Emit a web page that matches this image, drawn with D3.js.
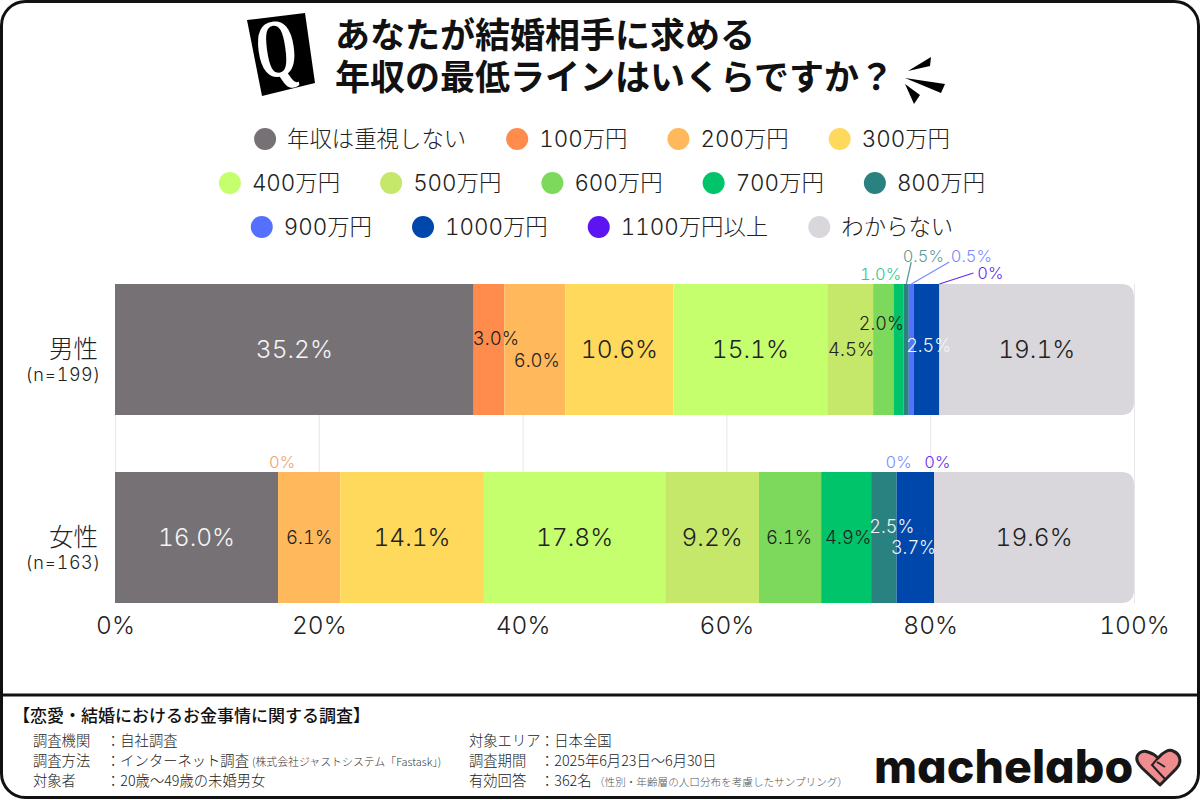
<!DOCTYPE html>
<html>
<head>
<meta charset="utf-8">
<title>あなたが結婚相手に求める年収の最低ライン</title>
<script src="https://cdn.jsdelivr.net/npm/d3@7"></script>
<style>
html, body { margin: 0; padding: 0; background: #fff; }
svg { display: block; font-family: Inter, "Noto Sans CJK JP", sans-serif; font-feature-settings: "tnum"; }
</style>
</head>
<body>
<svg id="stage" width="1200" height="800"></svg>
<script>
'use strict';

var groups = ['男性', '女性'];
var groupCounts = ['(n=199)', '(n=163)'];
var seriesNames = ['年収は重視しない', '100万円', '200万円', '300万円', '400万円', '500万円', '600万円', '700万円', '800万円', '900万円', '1000万円', '1100万円以上', 'わからない'];
var seriesColors = ['#757175', '#ff8c4d', '#ffb95c', '#ffd95c', '#c5ff6e', '#c5e86a', '#7dd95c', '#00c46a', '#2a8280', '#5470ff', '#0047ab', '#5c14f0', '#d9d7db'];
var maleValues = [35.2, 3.0, 6.0, 10.6, 15.1, 4.5, 2.0, 1.0, 0.5, 0.5, 2.5, 0, 19.1];
var femaleValues = [16.0, 0, 6.1, 14.1, 17.8, 9.2, 6.1, 4.9, 2.5, 0, 3.7, 0, 19.6];
var axisTicks = [0, 20, 40, 60, 80, 100];
var legendRows = [
    ['年収は重視しない', '100万円', '200万円', '300万円'],
    ['400万円', '500万円', '600万円', '700万円', '800万円'],
    ['900万円', '1000万円', '1100万円以上', 'わからない']
];
var titleLines = ['あなたが結婚相手に求める', '年収の最低ラインはいくらですか？'];
var surveyTitle = '【恋愛・結婚におけるお金事情に関する調査】';
var surveyLeft = [['調査機関', '：自社調査'], ['調査方法', '：インターネット調査'], ['対象者', '：20歳～49歳の未婚男女']];
var surveyRight = [['対象エリア', '：日本全国'], ['調査期間', '：2025年6月23日～6月30日'], ['有効回答', '：362名']];

var svg = d3.select('#stage');
var x = d3.scaleLinear().domain([0, 100]).range([115, 1134]);
var y = d3.scaleBand().domain(groups).range([284, 603]).paddingInner(57 / 188);
var color = d3.scaleOrdinal().domain(seriesNames).range(seriesColors);

var table = groups.map(function(g, i) {
    var row = { group: g };
    var values = i === 0 ? maleValues : femaleValues;
    seriesNames.forEach(function(s, j) { row[s] = values[j]; });
    return row;
});
var stacked = d3.stack().keys(seriesNames)(table);

// frame
svg.append('rect').attr('x', 1.5).attr('y', 1.5).attr('width', 1197).attr('height', 796)
    .attr('rx', 24).attr('fill', '#fff').attr('stroke', '#111').attr('stroke-width', 3);
svg.append('line').attr('x1', 2).attr('x2', 1198).attr('y1', 695).attr('y2', 695)
    .attr('stroke', '#111').attr('stroke-width', 3);

// title
svg.append('polygon').attr('points', '247,20 305,13 315,83 262,96').attr('fill', '#000');
svg.append('text').attr('transform', 'translate(280,76) rotate(-8) scale(0.72,1.15)')
    .attr('text-anchor', 'middle').attr('font-family', '"Liberation Serif"').attr('font-weight', 700)
    .attr('font-size', 72).attr('fill', '#fff').text('Q');
var title = svg.append('text')
    .attr('font-family', '"Noto Sans CJK JP"').attr('font-weight', 700).attr('font-size', 35).attr('fill', '#111');
title.selectAll('tspan').data(titleLines).enter().append('tspan')
    .attr('x', 335)
    .attr('y', function(d, i) { return 48 + i * 42; })
    .text(function(d) { return d; });
['908,71 931,57 930,66', '905,78 945,84 941,93', '905,84 920,95 914,104'].forEach(function(p) {
    svg.append('polygon').attr('points', p).attr('fill', '#000');
});

// legend
var legendY = d3.scalePoint().domain([0, 1, 2]).range([139, 227]);
legendRows.forEach(function(row, r) {
    var g = svg.append('g');
    var cursor = 0;
    row.forEach(function(name) {
        g.append('circle').attr('cx', cursor + 11).attr('cy', legendY(r)).attr('r', 11).attr('fill', color(name));
        var t = g.append('text').attr('x', cursor + 33).attr('y', legendY(r)).attr('dy', '0.36em')
            .attr('font-weight', 300)
            .attr('font-size', 22.4).attr('fill', '#222').text(name);
        cursor += 33 + t.node().getComputedTextLength() + 40;
    });
    g.attr('transform', 'translate(' + (602 - (cursor - 40) / 2) + ',0)');
});

// grid + axis
var axis = svg.append('g').attr('transform', 'translate(0,603)')
    .call(d3.axisBottom(x).tickValues(axisTicks).tickSize(-319).tickPadding(14)
        .tickFormat(function(d) { return d + '%'; }));
axis.select('.domain').remove();
axis.selectAll('.tick line').attr('stroke', '#e8e6e8');
axis.selectAll('text').attr('font-family', 'Inter, "Noto Sans CJK JP"').attr('font-size', 24.5)
    .attr('font-weight', 300).attr('fill', '#222');

// bars
function roundedEnd(x0, x1, y0, y1, r) {
    var p = d3.path();
    p.moveTo(x0, y0);
    p.lineTo(x1 - r, y0);
    p.quadraticCurveTo(x1, y0, x1, y0 + r);
    p.lineTo(x1, y1 - r);
    p.quadraticCurveTo(x1, y1, x1 - r, y1);
    p.lineTo(x0, y1);
    p.closePath();
    return p.toString();
}
stacked.forEach(function(layer) {
    var g = svg.append('g').attr('fill', color(layer.key));
    if (layer.key === 'わからない') {
        g.selectAll('path').data(layer).enter().append('path')
            .attr('d', function(d) {
                return roundedEnd(x(d[0]), x(d[1]), y(d.data.group), y(d.data.group) + y.bandwidth(), 13);
            });
    } else {
        g.selectAll('rect').data(layer.filter(function(d) { return d[1] > d[0]; })).enter().append('rect')
            .attr('x', function(d) { return x(d[0]); })
            .attr('y', function(d) { return y(d.data.group); })
            .attr('width', function(d) { return x(d[1]) - x(d[0]); })
            .attr('height', y.bandwidth());
    }
});

// group labels
groups.forEach(function(g, i) {
    var cy = y(g) + y.bandwidth() / 2;
    svg.append('text').attr('x', 98).attr('y', cy).attr('dy', '0.36em').attr('text-anchor', 'end')
        .attr('font-family', '"Noto Sans CJK JP"').attr('font-weight', 300).attr('font-size', 24.5).attr('fill', '#222').text(g);
    svg.append('text').attr('x', 101).attr('y', cy + 25).attr('dy', '0.36em').attr('text-anchor', 'end')
        .attr('font-weight', 300).attr('font-size', 18).attr('letter-spacing', 0.6).attr('fill', '#222').text(groupCounts[i]);
});

// value labels. size: big inside, small inside, or outside the bar with its own colour
var darkInk = '#222';
var whiteSeries = ['年収は重視しない', '800万円', '900万円', '1000万円'];
var labelPlacement = {
    '男性|100万円': { size: 18.5, dx: 7, dy: -11 },
    '男性|200万円': { size: 18.5, dx: 2, dy: 11 },
    '男性|500万円': { size: 18.5, dx: 1, dy: 0 },
    '男性|600万円': { size: 18, dx: -2, dy: -26 },
    '男性|700万円': { size: 16.5, dx: -18, top: 10, ink: '#2fc795' },
    '男性|800万円': { size: 16.5, dx: 17, top: 28, ink: '#5f9c98', lead: [5, 22] },
    '男性|900万円': { size: 16.5, dx: 60, top: 28, ink: '#7a8cff', lead: [38, 22] },
    '男性|1100万円以上': { size: 16.5, dx: 51, top: 11, ink: '#6a2bea', lead: [34, 11] },
    '男性|1000万円': { size: 18, dx: 2, dy: -4 },
    '女性|100万円': { size: 16.5, dx: 4, top: 10, ink: '#f0a070' },
    '女性|200万円': { size: 18.5, dx: 0, dy: 0 },
    '女性|600万円': { size: 18.5, dx: -1, dy: 0 },
    '女性|700万円': { size: 18.5, dx: 2, dy: 0 },
    '女性|800万円': { size: 18, dx: 8, dy: -11 },
    '女性|1000万円': { size: 18, dx: -2, dy: 10 },
    '女性|900万円': { size: 16.5, dx: 2, top: 10, ink: '#7a8cff' },
    '女性|1100万円以上': { size: 16.5, dx: 3, top: 10, ink: '#6a2bea' }
};
stacked.forEach(function(layer) {
    layer.forEach(function(d) {
        var g = d.data.group;
        var v = d.data[layer.key];
        var place = labelPlacement[g + '|' + layer.key];
        if (v === 0 && !place) return;
        var mid = x((d[0] + d[1]) / 2);
        var top = y(g);
        var cy = top + y.bandwidth() / 2;
        var size = place ? place.size : 24.5;
        var lx = mid + (place ? place.dx : 0);
        var ly = place && place.top !== undefined ? top - place.top : cy + (place ? place.dy : 0);
        var ink = place && place.ink ? place.ink : (whiteSeries.indexOf(layer.key) >= 0 ? '#f4f4f6' : darkInk);
        if (place && place.lead) {
            svg.append('line').attr('x1', mid).attr('y1', top)
                .attr('x2', mid + place.lead[0]).attr('y2', top - place.lead[1])
                .attr('stroke', ink).attr('stroke-width', 1.3);
        }
        svg.append('text').attr('x', lx).attr('y', ly).attr('dy', '0.36em').attr('text-anchor', 'middle')
            .attr('font-weight', 300).attr('font-size', size).attr('fill', ink)
            .text(v === 0 ? '0%' : v.toFixed(1) + '%');
    });
});

// survey notes
var noteFont = '"Noto Sans CJK JP"';
svg.append('text').attr('x', 13).attr('y', 722).attr('font-family', noteFont).attr('font-weight', 500)
    .attr('font-size', 17).attr('fill', '#111').text(surveyTitle);
function noteColumn(rows, keyX, valueX) {
    rows.forEach(function(r, i) {
        var ry = 746 + i * 20;
        svg.append('text').attr('x', keyX).attr('y', ry).attr('font-family', noteFont).attr('font-size', 14.3)
            .attr('font-weight', 300).attr('fill', '#222').text(r[0]);
        svg.append('text').attr('x', valueX).attr('y', ry).attr('font-family', noteFont).attr('font-size', 14.3)
            .attr('font-weight', 300).attr('fill', '#222').text(r[1]);
    });
}
noteColumn(surveyLeft, 33, 106);
noteColumn(surveyRight, 469, 540);
svg.append('text').attr('x', 252).attr('y', 766).attr('font-family', noteFont).attr('font-size', 10.9)
    .attr('font-weight', 300).attr('fill', '#333').text('(株式会社ジャストシステム「Fastask」)');
svg.append('text').attr('x', 594).attr('y', 786).attr('font-family', noteFont).attr('font-size', 10.6)
    .attr('font-weight', 300).attr('fill', '#555').text('（性別・年齢層の人口分布を考慮したサンプリング）');

// logo, cv11 is Inter's single-storey a
svg.append('text').attr('x', 874).attr('y', 783).attr('font-family', 'Inter').attr('font-weight', 800)
    .style('font-feature-settings', '"cv11"')
    .attr('font-size', 46.5).attr('fill', '#111').text('machelabo');
svg.append('path')
    .attr('d', 'M1160,785 L1142,768 C1131,757 1140,749 1148,752 C1152,753 1155,755 1158,758 C1163,752 1169,749 1173,751 C1181,754 1182,763 1176,769 Z')
    .attr('fill', '#f08c8f').attr('stroke', '#222').attr('stroke-width', 3).attr('stroke-linejoin', 'round');
svg.append('path')
    .attr('d', 'M1158,758 L1152,765 L1165,779 M1157,762 L1165,767')
    .attr('fill', 'none').attr('stroke', '#222').attr('stroke-width', 2);
</script>
</body>
</html>
